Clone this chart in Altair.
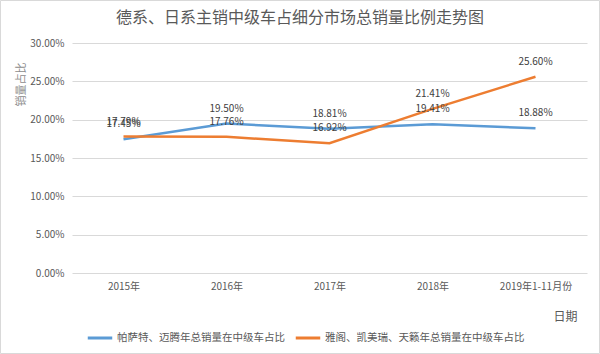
import altair as alt
import pandas as pd

years = ["2015年", "2016年", "2017年", "2018年", "2019年1-11月份"]
series_a = "帕萨特、迈腾年总销量在中级车占比"
series_b = "雅阁、凯美瑞、天籁年总销量在中级车占比"
values_a = [17.45, 19.50, 18.81, 19.41, 18.88]
values_b = [17.79, 17.76, 16.92, 21.41, 25.60]
title_text = "德系、日系主销中级车占细分市场总销量比例走势图"

rows = []
for yr, v in zip(years, values_a):
    rows.append({"year": yr, "series": series_a, "value": v / 100})
for yr, v in zip(years, values_b):
    rows.append({"year": yr, "series": series_b, "value": v / 100})
df = pd.DataFrame(rows)

FONT = "Noto Sans CJK SC"

x = alt.X("year:N", sort=years, scale=alt.Scale(type="point", padding=0.5),
          axis=alt.Axis(title="日期", titleX=493, titleY=43, titleAlign="center",
                        titleBaseline="middle", titleFontSize=12, titleFontWeight="normal",
                        titleColor="#595959", labelAngle=0, labelFontSize=10,
                        labelColor="#595959", ticks=False, domain=False, labelPadding=8,
                        grid=False))
y = alt.Y("value:Q", scale=alt.Scale(domain=[0, 0.30]),
          axis=alt.Axis(format=".2%", values=[0, 0.05, 0.10, 0.15, 0.20, 0.25, 0.30],
                        labelOverlap=False, tickCount=7,
                        title="销量占比", titleX=-51, titleY=41, titleAlign="center",
                        titleBaseline="middle",
                        titleFontSize=11, titleFontWeight="normal", titleColor="#8c8c8c",
                        labelFontSize=10, labelColor="#595959", ticks=False, domain=False,
                        labelPadding=8, gridColor="#d9d9d9", gridWidth=1))
color = alt.Color("series:N", sort=[series_a, series_b],
                  scale=alt.Scale(domain=[series_a, series_b], range=["#5B9BD5", "#ED7D31"]),
                  legend=alt.Legend(title=None, orient="none", legendX=14, legendY=281,
                                    direction="horizontal", symbolType="stroke",
                                    symbolStrokeWidth=3, symbolSize=600, labelFontSize=10.5,
                                    labelColor="#595959", columnPadding=4, labelLimit=400,
                                    labelOffset=3))

base = alt.Chart(df)
lines = base.mark_line(strokeWidth=2.5).encode(x=x, y=y, color=color)
labels = base.mark_text(dy=-15, fontSize=10, color="#404040", font=FONT).encode(
    x=x, y=y, text=alt.Text("value:Q", format=".2%"))

border = alt.Chart(pd.DataFrame({"a": [0]})).mark_rect(
    fill=None, stroke="#d9d9d9", strokeWidth=1).encode(
    x=alt.value(-71.5), x2=alt.value(527.5), y=alt.value(-42.5), y2=alt.value(310.5))

title = alt.Chart(pd.DataFrame({"t": [title_text]})).mark_text(
    fontSize=16, color="#595959", font=FONT, align="center", baseline="middle").encode(
    text="t:N", x=alt.value(228), y=alt.value(-25))

chart = alt.layer(border, lines, labels, title).properties(
    width=515, height=230,
    padding={"left": 72, "top": 43, "right": 13, "bottom": 81},
    autosize=alt.AutoSizeParams(type="none"),
).configure(font=FONT).configure_view(stroke=None)

chart.save("out.html", embed_options={"renderer": "svg", "actions": False})
